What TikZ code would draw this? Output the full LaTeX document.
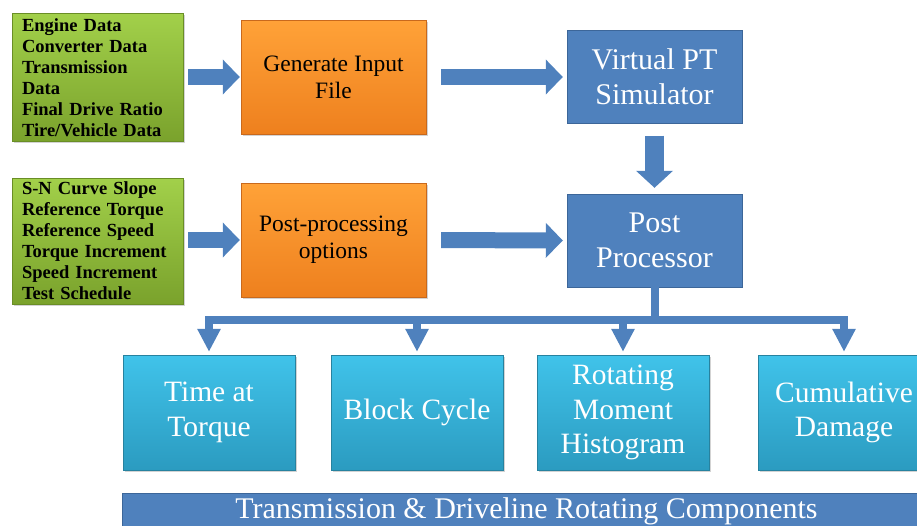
\documentclass[tikz,border=0pt]{standalone}
\usepackage{fontspec}
\setmainfont{Liberation Serif}
\usetikzlibrary{arrows.meta,calc,positioning,shadows}

\definecolor{flowblue}{HTML}{4F81BD}
\definecolor{flowedge}{HTML}{3C6699}
\definecolor{greentop}{HTML}{A2D04A}
\definecolor{greenbot}{HTML}{7AA22C}
\definecolor{greenedge}{HTML}{6A8E26}
\definecolor{orangetop}{HTML}{FFA238}
\definecolor{orangebot}{HTML}{EE801E}
\definecolor{orangeedge}{HTML}{C9691C}
\definecolor{cyantop}{HTML}{40C3EA}
\definecolor{cyanbot}{HTML}{2B9BC0}
\definecolor{cyanedge}{HTML}{27829F}

\begin{document}
\begin{tikzpicture}[x=1pt, y=-1pt,
    shade/.style={drop shadow={opacity=0.35, shadow xshift=1.5pt, shadow yshift=-1.5pt}},
    datain/.style={rectangle, draw=greenedge, top color=greentop, bottom color=greenbot, shade,
        text width=151pt, inner xsep=10pt, minimum width=171pt, align=left,
        font=\bfseries\fontsize{18.5}{21}\selectfont},
    prep/.style={rectangle, draw=orangeedge, top color=orangetop, bottom color=orangebot, shade,
        minimum width=185pt, minimum height=114pt, align=center,
        font=\fontsize{23.5}{27}\selectfont},
    core/.style={rectangle, draw=flowedge, fill=flowblue, text=white,
        minimum width=175pt, minimum height=93pt, align=center,
        font=\fontsize{30}{35}\selectfont},
    result/.style={rectangle, draw=cyanedge, top color=cyantop, bottom color=cyanbot, shade, text=white,
        minimum width=172pt, minimum height=115pt, align=center,
        font=\fontsize{29.5}{34.5}\selectfont},
    fatarrow/.style={draw=flowblue, line width=16pt, -{Triangle[length=17pt, width=34pt]}},
    downarrow/.style={draw=flowblue, line width=19pt, -{Triangle[length=17pt, width=36pt]}},
    busline/.style={draw=flowblue, line width=8pt, line cap=rect},
    drop/.style={draw=flowblue, line width=8pt, -{Triangle[length=23pt, width=22pt]}}
]
    \useasboundingbox (0,0) rectangle (917,525);

    \node[datain, minimum height=128pt] (vehdata) at (97.5,77.5) {
        Engine Data\\
        Converter Data\\
        Transmission\\
        Data\\
        Final Drive Ratio\\
        Tire/Vehicle Data};
    \node[datain, minimum height=126pt] (fatigue) at (97.5,241) {
        S-N Curve Slope\\
        Reference Torque\\
        Reference Speed\\
        Torque Increment\\
        Speed Increment\\
        Test Schedule};

    \node[prep] (geninput) at (333.5,77) {Generate Input\\File};
    \node[prep] (postopt) at (333.5,240) {Post-processing\\options};

    \node[core] (vptsim) at (654.5,77) {Virtual PT\\Simulator};
    \node[core] (postproc) at (654.5,240.5) {Post\\Processor};

    \node[result] (timetorque) at (209,412.5) {Time at\\Torque};
    \node[result] (blockcycle) at (417,412.5) {Block Cycle};
    \node[result] (rmhist) at (623,412.5) {Rotating\\Moment\\Histogram};
    \node[result] (cumdamage) at (844,412.5) {Cumulative\\Damage};

    \node[core, minimum width=809pt, minimum height=42pt, text depth=12.5pt,
        font=\fontsize{30}{34}\selectfont]
        (components) at (526.5,514) {Transmission \& Driveline Rotating Components};

    \draw[fatarrow, shorten <=5pt, shorten >=1pt] (vehdata.east |- geninput) -- (geninput.west);
    \draw[fatarrow, shorten <=5pt, shorten >=1pt] (fatigue.east |- postopt) -- (postopt.west);
    \draw[fatarrow, shorten <=15pt, shorten >=4pt] (geninput.east) -- (vptsim.west);
    \draw[fatarrow, shorten <=15pt, shorten >=4pt] (postopt.east) -- (postproc.west);
    \draw[downarrow, shorten <=12pt, shorten >=6pt] (vptsim.south) -- (vptsim.south |- postproc.north);

    \coordinate (bus) at ($(postproc.south)+(0,33)$);
    \draw[busline] (postproc.south) -- (bus);
    \draw[busline] (timetorque.north |- bus) -- (cumdamage.north |- bus);
    \foreach \target in {timetorque, blockcycle, rmhist, cumdamage}
        \draw[drop, shorten >=3pt] (\target.north |- bus) -- (\target.north);
\end{tikzpicture}
\end{document}
